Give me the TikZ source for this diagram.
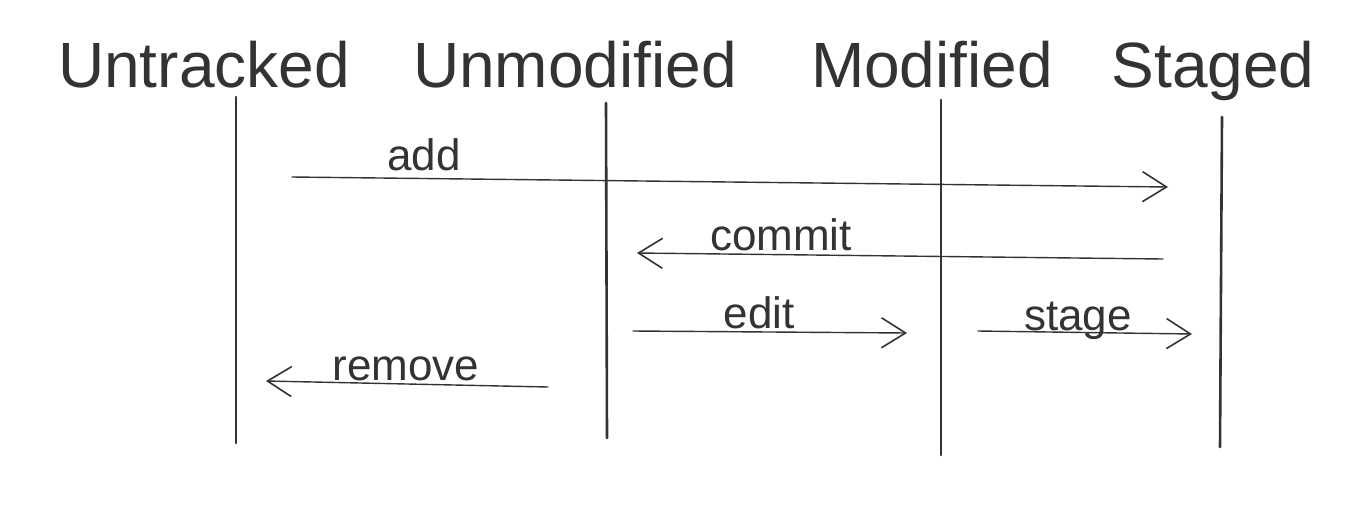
\documentclass[tikz,border=0pt]{standalone}
\usepackage{fontspec}
\setmainfont{Liberation Sans}
\usetikzlibrary{arrows.meta}
\definecolor{ink}{HTML}{333333}
\tikzset{
  title/.style={font=\fontsize{64}{70}\selectfont, text=ink, inner sep=0pt, anchor=base},
  lbl/.style={font=\fontsize{44}{50}\selectfont, text=ink, inner sep=0pt, anchor=base},
  lifeline/.style={draw=ink, line width=2.6pt, line cap=round},
  msg/.style={draw=ink, line width=1.4pt, line cap=round, -{Straight Barb[length=24pt,width=30pt,line width=1.6pt]}}
}
\begin{document}
\begin{tikzpicture}[x=1pt,y=-1pt]
\useasboundingbox (0,0) rectangle (1365,509);
% titles
\node[title] (tU) at (204,87) {Untracked};
\node[title] (tN) at (575,87) {Unmodified};
\node[title] (tM) at (932,87) {Modified};
\node[title] (tS) at (1213,87) {Staged};
% lifelines
\coordinate (u1) at (236,97);  \coordinate (u2) at (236,443);
\coordinate (n1) at (606,103); \coordinate (n2) at (607,438);
\coordinate (m1) at (941,100); \coordinate (m2) at (941,455);
\coordinate (s1) at (1222,117);\coordinate (s2) at (1220,447);
\draw[lifeline] (u1) -- (u2);
\draw[lifeline] (n1) -- (n2);
\draw[lifeline] (m1) -- (m2);
\draw[lifeline] (s1) -- (s2);
% messages
\coordinate (a1) at (292,177);  \coordinate (a2) at (1168,187);
\coordinate (c1) at (1163,259); \coordinate (c2) at (637,253);
\coordinate (e1) at (633,331);  \coordinate (e2) at (907,333);
\coordinate (g1) at (978,331);  \coordinate (g2) at (1192,334);
\coordinate (r1) at (548,387);  \coordinate (r2) at (266,381);
\draw[msg] (a1) -- (a2);
\draw[msg] (c1) -- (c2);
\draw[msg] (e1) -- (e2);
\draw[msg] (g1) -- (g2);
\draw[msg] (r1) -- (r2);
% labels
\node[lbl] (la) at (424,170) {add};
\node[lbl] (lc) at (781,250) {commit};
\node[lbl] (le) at (759,328) {edit};
\node[lbl] (lg) at (1078,330) {stage};
\node[lbl] (lr) at (406,380) {remove};
\end{tikzpicture}
\end{document}
